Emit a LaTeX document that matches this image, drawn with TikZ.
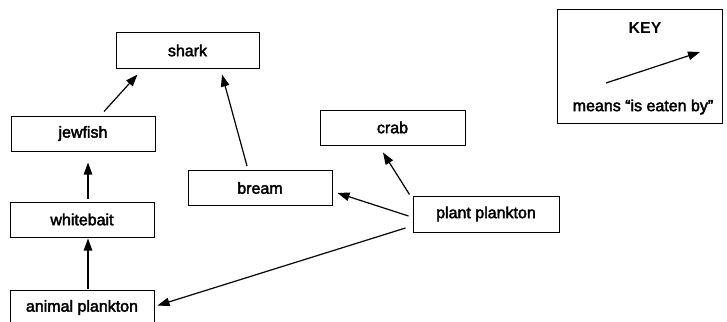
\documentclass[tikz,border=0pt]{standalone}
\usepackage{fontspec}
\setmainfont{Liberation Sans}
\newfontfamily\webfont[FakeBold=2.5]{Liberation Sans}
\usetikzlibrary{arrows.meta,calc}
\tikzset{
  organism/.style={draw, line width=1pt, minimum width=144pt, minimum height=35pt,
    inner sep=0pt, font=\webfont\fontsize{16}{18}\selectfont},
  eaten/.style={line width=1.2pt, -{Triangle[length=12pt,width=8.5pt]}},
}
\begin{document}
\begin{tikzpicture}[x=1pt,y=-1pt]
  \clip (0,0) rectangle (727,321);
  \useasboundingbox (0,0) rectangle (727,321);

  % food web organisms
  \node[organism, minimum width=143pt] (shark) at (187.5,50.5) {shark};
  \node[organism] (jewfish) at (83,133.5) {jewfish};
  \node[organism] (whitebait) at (82,219.5) {whitebait};
  \node[organism] (animal) at (82,307.5) {animal plankton};
  \node[organism] (bream) at (260,188) {bream};
  \node[organism, minimum width=145pt] (crab) at (392.5,127.5) {crab};
  \node[organism, minimum width=146pt, minimum height=36pt] (plant) at (486,214) {plant plankton};

  % feeding links
  \draw[eaten] ($(jewfish.north)+(21,-4)$) -- ($(shark.south)+(-50,6)$);
  \draw[eaten] ($(whitebait.north)+(6,-3)$) -- ($(jewfish.south)+(5,11)$);
  \draw[eaten] ($(animal.north)+(6,-1)$) -- ($(whitebait.south)+(6,1)$);
  \draw[eaten] ($(bream.north)+(-13,-4)$) -- ($(shark.south)+(34.5,6)$);
  \draw[eaten] ($(plant.west)+(-4,2)$) -- ($(bream.east)+(5,5)$);
  \draw[eaten] ($(plant.north west)+(-3,-1)$) -- ($(crab.south)+(-9.5,7)$);
  \draw[eaten] ($(plant.west)+(-7,14)$) -- ($(animal.east)+(3,-2)$);

  % key
  \node[draw, line width=1pt, minimum width=165pt, minimum height=113pt, inner sep=0pt]
    (key) at (639.5,66.5) {};
  \node[font=\bfseries\fontsize{16}{18}\selectfont] (keytitle) at (645,28) {KEY};
  \coordinate (ktail) at (606,83);
  \coordinate (khead) at (700,52);
  \draw[eaten] (ktail) -- (khead);
  \node[font=\webfont\fontsize{16}{18}\selectfont] (keytext) at (643,107) {means “is eaten by”};
\end{tikzpicture}
\end{document}
